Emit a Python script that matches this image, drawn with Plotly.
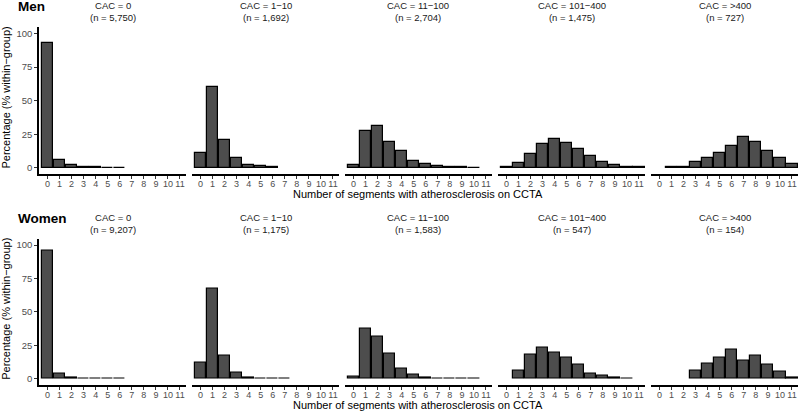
import plotly.graph_objects as go

segments = list(range(12))
tick_labels = [str(s) for s in segments]

cac_groups = ["0", "1\u221210", "11\u2212100", "101\u2212400", ">400"]
men_n = ["5,750", "1,692", "2,704", "1,475", "727"]
women_n = ["9,207", "1,175", "1,583", "547", "154"]

men_cac0 = [93, 6, 2, 0.5, 0.3, 0.2, 0.1, None, None, None, None, None]
men_cac1_10 = [10.9, 60, 20.6, 7, 2.2, 1.0, 0.4, None, None, None, None, None]
men_cac11_100 = [2, 27.5, 30.8, 19.4, 12.7, 5.2, 3.2, 1.5, 0.8, 0.4, 0.2, None]
men_cac101_400 = [0.3, 3.5, 10.4, 18.1, 21.8, 18.6, 13.9, 8.7, 4.7, 2.0, 0.9, 0.4]
men_cac400 = [None, 0.3, 0.8, 4.2, 7.2, 10.9, 16.6, 22.6, 18.9, 12.7, 7.2, 2.7]

women_cac0 = [95.5, 3.8, 1.2, 0.3, 0.2, 0.1, 0.1, None, None, None, None, None]
women_cac1_10 = [11.9, 67.2, 17.4, 4.5, 1.1, 0.5, 0.3, 0.2, None, None, None, None]
women_cac11_100 = [1.7, 37.8, 31.8, 18.7, 7.5, 3.5, 1.2, 0.5, 0.3, 0.2, 0.2, None]
women_cac101_400 = [None, 6.0, 18.4, 23.4, 19.9, 15.9, 10.7, 4.2, 2.8, 1.2, 0.5, None]
women_cac400 = [None, None, None, 6.2, 11.4, 15.7, 21.6, 13.4, 17.4, 10.9, 5.2, 1.2]

rows = [
    ("Men", men_n, [men_cac0, men_cac1_10, men_cac11_100, men_cac101_400, men_cac400]),
    ("Women", women_n, [women_cac0, women_cac1_10, women_cac11_100, women_cac101_400, women_cac400]),
]

W, H = 800, 412
panel_left = [39, 192, 345, 498, 651]
panel_w = 147
row_px = [(27, 174), (238.6, 385)]  # top, bottom pixel of plot area

FONT = "Liberation Sans, Arial, sans-serif"
fig = go.Figure()
annotations = []

idx = 0
for r, (sex, ns, series) in enumerate(rows):
    top, bot = row_px[r]
    ydom = [(H - bot) / H, (H - top) / H]
    for c in range(5):
        idx += 1
        xa = "x" if idx == 1 else f"x{idx}"
        ya = "y" if idx == 1 else f"y{idx}"
        fig.add_trace(go.Bar(
            x=segments, y=series[c], xaxis=xa, yaxis=ya,
            width=0.93,
            marker=dict(color="#4d4d4d", line=dict(color="black", width=1.2)),
            showlegend=False, hoverinfo="x+y",
        ))
        xdom = [panel_left[c] / W, (panel_left[c] + panel_w) / W]
        xkey = "xaxis" if idx == 1 else f"xaxis{idx}"
        ykey = "yaxis" if idx == 1 else f"yaxis{idx}"
        fig.layout[xkey] = dict(
            domain=xdom, anchor=ya, range=[-0.7, 11.5], automargin=False,
            tickmode="array", tickvals=segments, ticktext=tick_labels, tickangle=0,
            showline=True, linecolor="black", linewidth=1.6,
            ticks="outside", ticklen=3, tickwidth=1, tickcolor="#333333",
            ticklabelstandoff=-3,
            tickfont=dict(size=9, color="#4d4d4d", family=FONT),
            showgrid=False, zeroline=False, fixedrange=True,
        )
        first = (c == 0)
        fig.layout[ykey] = dict(
            domain=ydom, anchor=xa, range=[-4.6, 104.8], automargin=False,
            tickmode="array", tickvals=[0, 25, 50, 75, 100],
            showticklabels=first,
            showline=first, linecolor="black", linewidth=1.6,
            ticks="outside" if first else "", ticklen=3, tickwidth=1, tickcolor="#333333",
            tickfont=dict(size=9.5, color="#4d4d4d", family=FONT),
            showgrid=False, zeroline=False, fixedrange=True,
        )
        # facet title
        annotations.append(dict(
            x=(panel_left[c] + panel_w / 2) / W, y=(H - top + 2) / H,
            xref="paper", yref="paper", xanchor="center", yanchor="bottom",
            text=f"CAC = {cac_groups[c]}<br>(n = {ns[c]})", showarrow=False,
            font=dict(size=9.5, color="#1a1a1a", family=FONT),
        ))
    # row label
    annotations.append(dict(
        x=16 / W, y=(H - (top - 20)) / H, xref="paper", yref="paper",
        xanchor="left", yanchor="middle", text=f"<b>{sex}</b>", showarrow=False,
        font=dict(size=13.5, color="black", family=FONT),
    ))
    # x-axis title
    annotations.append(dict(
        x=418 / W, y=(H - (bot + 20)) / H, xref="paper", yref="paper",
        xanchor="center", yanchor="middle",
        text="Number of segments with atherosclerosis on CCTA", showarrow=False,
        font=dict(size=11, color="black", family=FONT),
    ))
    # y-axis title
    annotations.append(dict(
        x=6 / W, y=(H - (top + bot) / 2 + 3) / H, xref="paper", yref="paper",
        xanchor="center", yanchor="middle", textangle=-90,
        text="Percentage (% within\u2212group)", showarrow=False,
        font=dict(size=11, color="black", family=FONT),
    ))

fig.update_layout(
    width=W, height=H, margin=dict(l=0, r=0, t=0, b=0),
    paper_bgcolor="white", plot_bgcolor="white",
    annotations=annotations, bargap=0,
    font=dict(family=FONT),
)

fig.write_html(
    "out.html",
    config={"displayModeBar": False},
    post_script="document.body.style.margin='0';document.body.style.padding='0';document.body.style.overflow='hidden';",
)
